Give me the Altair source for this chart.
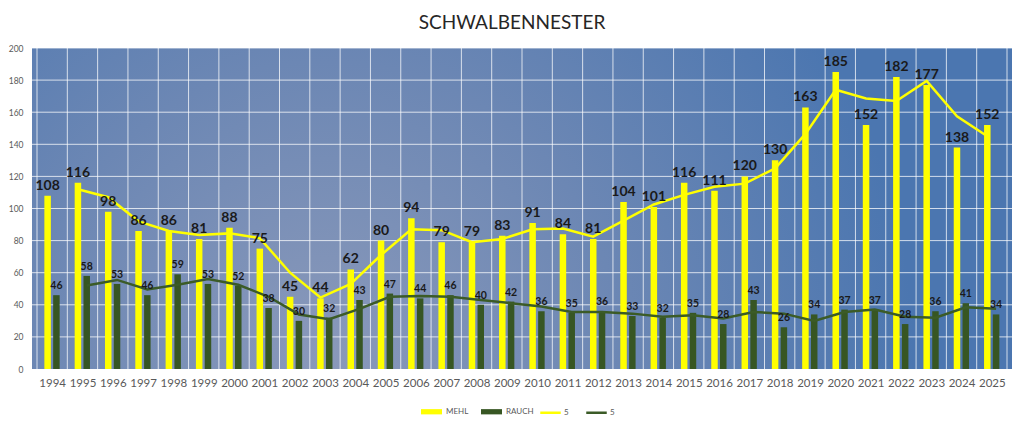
import altair as alt
import pandas as pd

years = list(range(1994, 2026))
mehl = [108, 116, 98, 86, 86, 81, 88, 75, 45, 44, 62, 80, 94, 79, 79, 83,
        91, 84, 81, 104, 101, 116, 111, 120, 130, 163, 185, 152, 182, 177, 138, 152]
rauch = [46, 58, 53, 46, 59, 53, 52, 38, 30, 32, 43, 47, 44, 46, 40, 42,
         36, 35, 36, 33, 32, 35, 28, 43, 26, 34, 37, 37, 28, 36, 41, 34]
mehl_trend = [None, 112, 107, 92, 86, 83.5, 84.5, 81.5, 60, 44.5, 53, 71, 87, 86.5, 79, 81,
              87, 87.5, 82.5, 92.5, 102.5, 108.5, 113.5, 115.5, 125, 146.5, 174, 168.5, 167, 179.5, 157.5, 145]
rauch_trend = [None, 52, 55.5, 49.5, 52.5, 56, 52.5, 45, 34, 31, 37.5, 45, 45.5, 45, 43, 41,
               39, 35.5, 35.5, 34.5, 32.5, 33.5, 31.5, 35.5, 34.5, 30, 35.5, 37, 32.5, 32, 38.5, 37.5]
y_ticks = list(range(0, 201, 20))

bars = pd.DataFrame({
    "year": years * 2,
    "series": ["MEHL"] * len(years) + ["RAUCH"] * len(years),
    "value": mehl + rauch,
})
trend = pd.DataFrame({
    "year": years * 2,
    "series": ["5"] * len(years) + ["5 "] * len(years),
    "value": mehl_trend + rauch_trend,
}).dropna()
vgrid = pd.DataFrame({"b": [y - 0.5 for y in years] + [years[-1] + 0.5]})
hgrid = pd.DataFrame({"g": y_ticks[1:]})

FONT = "Lato"
LABEL_COLOR = "#595959"
YELLOW = "#ffff00"
GREEN = "#375623"

xscale = alt.Scale(domain=[years[0] - 0.5, years[-1] + 0.5], nice=False, zero=False)
xaxis = alt.Axis(values=years, format="d", grid=False, ticks=False, domain=False,
                 labelFontSize=11.5, labelColor=LABEL_COLOR, labelFont=FONT,
                 labelPadding=8, title=None, labelFlush=False)
yscale = alt.Scale(domain=[0, 200], nice=False)
yaxis = alt.Axis(values=y_ticks, grid=False, ticks=False, domain=False,
                 labelFontSize=8.5, labelColor=LABEL_COLOR, labelFont=FONT,
                 labelPadding=9, title=None)


def X(field):
    return alt.X(field, type="quantitative", scale=xscale, axis=xaxis)


def Y(field):
    return alt.Y(field, type="quantitative", scale=yscale, axis=yaxis)


offset_expr = "datum.year + (datum.series == 'MEHL' || datum.series == '5' ? -0.15 : 0.14)"

sky = alt.Gradient(
    gradient="radial",
    x1=0.3, y1=0.65, r1=0,
    x2=0.3, y2=0.65, r2=0.6,
    stops=[
        alt.GradientStop(color="#8a99ba", offset=0),
        alt.GradientStop(color="#6c87b4", offset=0.5),
        alt.GradientStop(color="#4b76b0", offset=1),
    ],
)

bg = alt.Chart(pd.DataFrame({"a": [0]})).mark_rect(fill=sky).encode(
    x=alt.value(0), x2=alt.value("width"), y=alt.value(0), y2=alt.value("height")
)

vlines = alt.Chart(vgrid).mark_rule(color="white", strokeWidth=1, opacity=0.75).encode(
    x=X("b")
)
hlines = alt.Chart(hgrid).mark_rule(color="white", strokeWidth=1, opacity=0.75).encode(
    y=Y("g")
)

bar_layer = alt.Chart(bars).transform_calculate(xpos=offset_expr).mark_bar(width=6.5).encode(
    x=X("xpos"),
    y=Y("value"),
    fill=alt.Fill("series:N",
                  scale=alt.Scale(domain=["MEHL", "RAUCH"], range=[YELLOW, GREEN]),
                  legend=alt.Legend(orient="none", legendX=389, legendY=353,
                                    direction="horizontal", title=None,
                                    symbolType="M-1,-0.25H1V0.25H-1Z", symbolSize=441,
                                    symbolStrokeWidth=0, labelFontSize=8,
                                    labelColor=LABEL_COLOR, labelFont=FONT,
                                    columnPadding=12, labelOffset=4)),
)

line_layer = alt.Chart(trend).transform_calculate(xpos=offset_expr).mark_line(strokeWidth=2.5).encode(
    x=X("xpos"),
    y=Y("value"),
    stroke=alt.Stroke("series:N",
                      scale=alt.Scale(domain=["5", "5 "], range=[YELLOW, "#3b5b27"]),
                      legend=alt.Legend(orient="none", legendX=507, legendY=353,
                                        direction="horizontal", title=None,
                                        symbolType="stroke", symbolSize=420,
                                        symbolStrokeWidth=2.5, labelFontSize=8,
                                        labelColor=LABEL_COLOR, labelFont=FONT,
                                        columnPadding=12, labelOffset=2)),
)

mehl_labels = alt.Chart(bars).transform_filter("datum.series == 'MEHL'").transform_calculate(
    xpos=offset_expr).mark_text(font=FONT, fontWeight="bold", fontSize=14, color="#1a1a1a",
                                baseline="bottom", dy=-3).encode(
    x=X("xpos"), y=Y("value"), text=alt.Text("value:Q")
)
rauch_labels = alt.Chart(bars).transform_filter("datum.series == 'RAUCH'").transform_calculate(
    xpos=offset_expr).mark_text(font=FONT, fontWeight="bold", fontSize=10.5, color="#1a1a1a",
                                baseline="bottom", dy=-4).encode(
    x=X("xpos"), y=Y("value"), text=alt.Text("value:Q")
)

chart = alt.layer(bg, vlines, hlines, bar_layer, line_layer, mehl_labels, rauch_labels).properties(
    width=980,
    height=321,
    title=alt.TitleParams("SCHWALBENNESTER", font=FONT, fontSize=19, fontWeight="normal",
                          color="#262626", anchor="middle", frame="group", offset=11, dx=-10),
    autosize=alt.AutoSizeParams(type="none"),
    padding={"left": 24, "top": 40, "right": 4, "bottom": 49},
    background="white",
).configure_view(stroke=None)

chart.save("out.html", embed_options={"renderer": "svg", "actions": False})
